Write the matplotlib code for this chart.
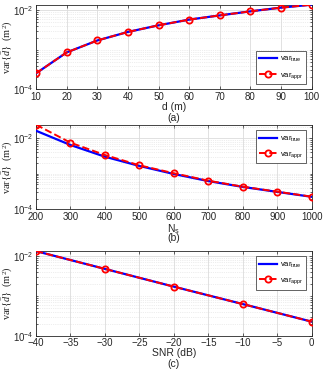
import numpy as np
import matplotlib
matplotlib.use("Agg")
import matplotlib.pyplot as plt
from matplotlib.ticker import FixedLocator, NullFormatter, FuncFormatter
import math

plt.rcParams['font.family'] = ['Liberation Sans', 'DejaVu Sans']
plt.rcParams['mathtext.fontset'] = 'custom'
plt.rcParams['mathtext.rm'] = 'Liberation Serif'
plt.rcParams['mathtext.it'] = 'Liberation Serif:italic'
plt.rcParams['mathtext.sf'] = 'Liberation Sans'

# Panel (a): distance
d_vals = [10, 20, 30, 40, 50, 60, 70, 80, 90, 100]
a_true = [2.54e-4, 8.6e-4, 1.73e-3, 2.85e-3, 4.2e-3, 5.86e-3, 7.5e-3, 9.5e-3, 1.18e-2, 1.40e-2]
a_appr = [2.54e-4, 8.6e-4, 1.73e-3, 2.85e-3, 4.2e-3, 5.86e-3, 7.5e-3, 9.5e-3, 1.18e-2, 1.40e-2]

# Panel (b): number of samples
ns_vals = [200, 300, 400, 500, 600, 700, 800, 900, 1000]
b_true = [1.61e-2, 6.4e-3, 3.0e-3, 1.65e-3, 9.8e-4, 6.2e-4, 4.25e-4, 3.08e-4, 2.24e-4]
b_appr = [2.38e-2, 7.43e-3, 3.35e-3, 1.72e-3, 1.03e-3, 6.36e-4, 4.31e-4, 3.12e-4, 2.26e-4]

# Panel (c): SNR
snr_vals = [-40, -30, -20, -10, 0]
c_true = [1.31e-2, 4.7e-3, 1.69e-3, 6.2e-4, 2.25e-4]
c_appr = [1.31e-2, 4.7e-3, 1.69e-3, 6.2e-4, 2.25e-4]

panels = [
    (d_vals, a_true, a_appr, 'd (m)', '(a)', list(range(10, 101, 10)), 'lower right'),
    (ns_vals, b_true, b_appr, r'N$_\mathsf{s}$', '(b)', list(range(200, 1001, 100)), 'upper right'),
    (snr_vals, c_true, c_appr, 'SNR (dB)', '(c)', list(range(-40, 1, 5)), 'upper right'),
]

def logfmt(v, pos):
    e = int(round(math.log10(v)))
    return r'$\mathsf{10^{%d}}$' % e

fig = plt.figure(figsize=(3.34, 3.79), dpi=100)
left, width, height = 0.1078, 0.8254, 0.2232
bottoms = [0.7644, 0.4478, 0.1142]
axcol = '#262626'

for (x, yt, ya, xl, tag, xt, loc), b in zip(panels, bottoms):
    ax = fig.add_axes([left, b, width, height])
    ax.set_yscale('log')
    ax.plot(x, yt, color='#0000ff', lw=1.6, label=r'var$_\mathsf{true}$', zorder=3)
    ax.plot(x, ya, color='#ff0000', lw=1.4, ls='--', marker='o', ms=4.5,
            mfc='none', mew=1.3, label=r'var$_\mathsf{appr}$', zorder=4)
    ax.set_xlim(x[0], x[-1])
    ax.set_ylim(1e-4, max(max(yt), max(ya)))
    ax.set_xticks(xt)
    ax.yaxis.set_major_locator(FixedLocator([1e-4, 1e-2]))
    ax.yaxis.set_major_formatter(FuncFormatter(logfmt))
    minors = [m * 10.0**e for e in (-4, -3, -2, -1) for m in range(1, 10)
              if not (m == 1 and e in (-4, -2))]
    ax.yaxis.set_minor_locator(FixedLocator(minors))
    ax.yaxis.set_minor_formatter(NullFormatter())
    ax.grid(True, which='major', color='#dcdcdc', lw=0.6)
    ax.grid(True, which='minor', axis='y', color='#dcdcdc', lw=0.5, ls=':')
    ax.set_axisbelow(True)
    ax.tick_params(which='both', direction='in', top=True, right=True,
                   labelsize=7, colors=axcol, length=2.5, width=0.5, pad=2)
    ax.tick_params(which='minor', length=1.5)
    for s in ax.spines.values():
        s.set_color(axcol)
        s.set_linewidth(0.6)
    ax.set_xlabel(xl, fontsize=7.5, color=axcol, labelpad=0)
    ax.set_ylabel(r'$\mathrm{var}\{\hat{d}\}\ \ (\mathrm{m}^2)$', fontsize=7.5, color=axcol)
    ax.yaxis.set_label_coords(-0.075, 0.5)
    ax.text(0.5, -0.34, tag, transform=ax.transAxes, ha='center', va='center',
            fontsize=7.5, color=axcol)
    leg = ax.legend(loc=loc, fontsize=5.5, handlelength=2.4, framealpha=1,
                    fancybox=False, edgecolor=axcol, borderpad=0.45,
                    labelspacing=0.7, handletextpad=0.3, borderaxespad=0.7)
    leg.get_frame().set_linewidth(0.5)

fig.savefig('out.png', dpi=100)
